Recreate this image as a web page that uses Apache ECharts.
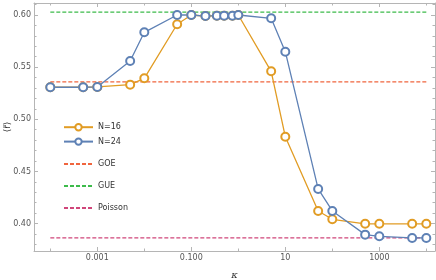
<!DOCTYPE html>
<html>
<head>
<meta charset="utf-8">
<script src="https://cdn.jsdelivr.net/npm/echarts@6/dist/echarts.min.js"></script>
<style>html,body{margin:0;padding:0;background:#fff;}#c{width:436px;height:280px;}</style>
</head>
<body>
<div id="c"></div>
<script>
// kappa values (x)
const kappa = [0.0001, 0.0005, 0.001, 0.005, 0.01, 0.05, 0.1, 0.2, 0.35, 0.5, 0.75, 1, 5, 10, 50, 100, 500, 1000, 5000, 10000];
// <r> for N=16
const rN16 = [0.5307, 0.5307, 0.531, 0.5332, 0.5393, 0.5911, 0.6000, 0.5990, 0.5993, 0.5993, 0.5993, 0.6000, 0.5460, 0.4833, 0.4121, 0.4041, 0.3998, 0.3998, 0.3998, 0.3998];
// <r> for N=24
const rN24 = [0.5307, 0.5307, 0.5310, 0.5559, 0.5834, 0.6000, 0.6000, 0.5990, 0.5993, 0.5993, 0.5993, 0.6000, 0.5968, 0.5648, 0.4332, 0.4121, 0.3894, 0.3878, 0.3862, 0.3862];
// reference levels
const refNames = ['GOE', 'GUE', 'Poisson'];
const refValues = [0.5359, 0.6027, 0.3863];
const refRange = [0.0001, 10000];
// tick labels
const xTickLabels = ['0.001', '0.100', '10', '1000'];
const xTickVals = [0.001, 0.1, 10, 1000];
const xMinorVals = [0.0001, 0.01, 1, 100, 10000];
const yTickVals = [0.40, 0.45, 0.50, 0.55, 0.60];
const yTickLabels = ['0.40', '0.45', '0.50', '0.55', '0.60'];
const yMinorVals = [0.38,0.39,0.41,0.42,0.43,0.44,0.46,0.47,0.48,0.49,0.51,0.52,0.53,0.54,0.56,0.57,0.58,0.59,0.61];

const L = Math.log10;
const xMin = -4.347, xMax = 4.185;
const yMin = 0.3737, yMax = 0.6115;
const axisColor = '#b5b5b5';
const labelColor = '#555';

function xAx(pos, vals, len, show, labels) {
  return {
    type: 'value', position: pos, min: xMin, max: xMax,
    axisLine: { show: show, onZero: false, lineStyle: { color: axisColor, width: 1 } },
    splitLine: { show: false },
    axisTick: { show: true, inside: true, length: len, customValues: vals.map(L), lineStyle: { color: axisColor } },
    axisLabel: labels ? {
      show: true, customValues: xTickVals.map(L), margin: 3, fontSize: 8, color: labelColor, fontFamily: 'DejaVu Sans',
      formatter: v => { const i = xTickVals.map(L).findIndex(t => Math.abs(t - v) < 1e-6); return i >= 0 ? xTickLabels[i] : ''; }
    } : { show: false },
    name: labels ? 'κ' : '', nameLocation: 'middle', nameGap: 19, nameMoveOverlap: false,
    nameTextStyle: { fontStyle: 'italic', fontSize: 10, color: '#333', fontFamily: 'DejaVu Serif' }
  };
}
function yAx(pos, vals, len, show, labels) {
  return {
    type: 'value', position: pos, min: yMin, max: yMax,
    axisLine: { show: show, onZero: false, lineStyle: { color: axisColor, width: 1 } },
    splitLine: { show: false },
    axisTick: { show: true, inside: true, length: len, customValues: vals, lineStyle: { color: axisColor } },
    axisLabel: labels ? {
      show: true, customValues: yTickVals, margin: 3, fontSize: 8, color: labelColor, fontFamily: 'DejaVu Sans',
      formatter: v => { const i = yTickVals.findIndex(t => Math.abs(t - v) < 1e-6); return i >= 0 ? yTickLabels[i] : ''; }
    } : { show: false },
    name: labels ? '⟨r̃⟩' : '', nameLocation: 'middle', nameGap: 22, nameRotate: 90, nameMoveOverlap: false,
    nameTextStyle: { fontSize: 9, color: '#333', fontFamily: 'DejaVu Sans' }
  };
}

const blue = '#5E81B5', orange = '#E19C24';
const refColors = ['#F0653E', '#3DBB4B', '#D0467A'];

const series = [
  { name: 'N=16', data: rN16, color: orange },
  { name: 'N=24', data: rN24, color: blue }
].map(s => ({
  name: s.name, type: 'line', xAxisIndex: 0, yAxisIndex: 0,
  data: kappa.map((k, i) => [L(k), s.data[i]]),
  symbol: 'emptyCircle', symbolSize: 8,
  lineStyle: { color: s.color, width: 1.3 },
  itemStyle: { color: s.color, borderColor: s.color, borderWidth: 1.5 },
  emphasis: { disabled: true }, animation: false
}));
refNames.forEach((n, i) => {
  series.push({
    name: n, type: 'line', xAxisIndex: 0, yAxisIndex: 0,
    data: refRange.map(k => [L(k), refValues[i]]),
    symbol: 'none', z: 1,
    lineStyle: { color: refColors[i], width: 1.3, type: [4, 2] },
    itemStyle: { color: refColors[i] },
    emphasis: { disabled: true }, animation: false
  });
});

const chart = echarts.init(document.getElementById('c'), null, { renderer: 'canvas' });
chart.setOption({
  animation: false,
  grid: { left: 34, right: 1, top: 3, bottom: 29, containLabel: false, outerBoundsMode: 'none' },
  xAxis: [
    xAx('bottom', xTickVals, 4, true, true),
    xAx('bottom', xMinorVals, 2.5, false, false),
    xAx('top', xTickVals, 4, true, false),
    xAx('top', xMinorVals, 2.5, false, false)
  ],
  yAxis: [
    yAx('left', yTickVals, 4, true, true),
    yAx('left', yMinorVals, 2.5, false, false),
    yAx('right', yTickVals, 4, true, false),
    yAx('right', yMinorVals, 2.5, false, false)
  ],
  legend: [
    {
      data: ['N=16', 'N=24'], orient: 'vertical', left: 63, top: 123,
      itemWidth: 29, itemHeight: 8, itemGap: 6, padding: 0,
      textStyle: { fontSize: 8, color: '#333', fontFamily: 'DejaVu Sans' }
    },
    {
      data: ['GOE', 'GUE', 'Poisson'], orient: 'vertical', left: 63, top: 160,
      itemWidth: 29, itemHeight: 8, itemGap: 14, padding: 0,
      itemStyle: { opacity: 0 },
      textStyle: { fontSize: 8, color: '#333', fontFamily: 'DejaVu Sans' }
    }
  ],
  series: series
});
</script>
</body>
</html>
